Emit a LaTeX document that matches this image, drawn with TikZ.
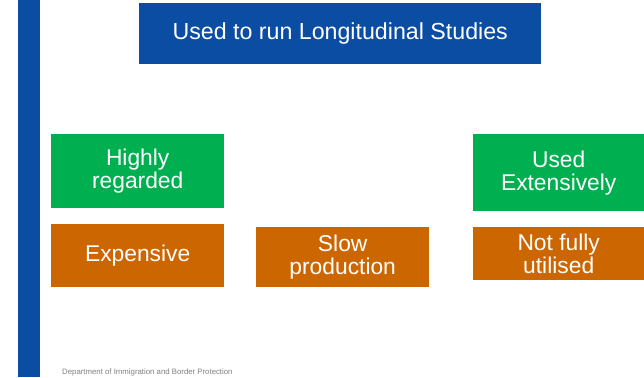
\documentclass[tikz,border=0pt]{standalone}
\usepackage{fontspec}
\setmainfont{Liberation Sans}
\definecolor{dblue}{HTML}{0A4DA2}
\definecolor{dgreen}{HTML}{00B050}
\definecolor{dorange}{HTML}{CC6600}
\definecolor{dgray}{HTML}{808080}
\begin{document}
\begin{tikzpicture}[x=1pt,y=-1pt,
  boxbase/.style={inner sep=0pt, align=center, text=white,
    font=\fontsize{22.8}{23}\selectfont, anchor=north west},
  greenbox/.style={boxbase, fill=dgreen},
  orangebox/.style={boxbase, fill=dorange},
  bluebox/.style={boxbase, fill=dblue}]
\useasboundingbox (0,0) rectangle (644,377);
\fill[dblue] (18,0) rectangle (40,377);
\node[bluebox, minimum width=402pt, minimum height=61pt, font=\fontsize{23.2}{24}\selectfont] (title) at (139,3) {Used to run Longitudinal Studies};
\node[greenbox, minimum width=173pt, minimum height=74pt] (hr) at (51,134) {Highly\\regarded};
\node[orangebox, minimum width=173pt, minimum height=63pt] (ex) at (51,224) {Expensive};
\node[orangebox, minimum width=173pt, minimum height=60pt] (sp) at (256,227) {Slow\\production};
\node[greenbox, minimum width=171pt, minimum height=77pt] (ue) at (473,134) {Used\\Extensively};
\node[orangebox, minimum width=171pt, minimum height=53pt] (nf) at (473,227) {Not fully\\utilised};
\node[anchor=base west, inner sep=0pt, text=dgray, font=\fontsize{7.8}{9}\selectfont] (foot) at (62,374) {Department of Immigration and Border Protection};
\end{tikzpicture}
\end{document}
